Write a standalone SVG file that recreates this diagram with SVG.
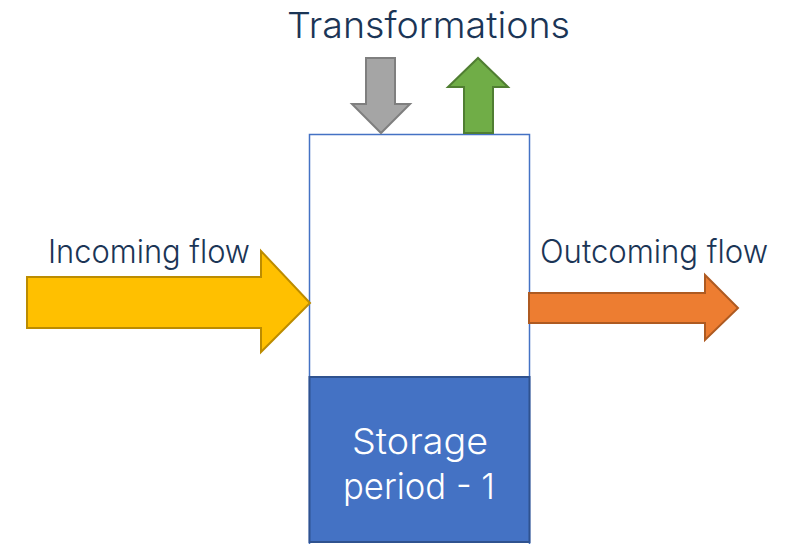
<svg xmlns="http://www.w3.org/2000/svg" width="794" height="544" viewBox="0 0 794 544">
<style>
.lbl{font-family:Inter,"Noto Sans","Liberation Sans",sans-serif;fill:#1B3556;font-weight:300}
.st{font-family:Inter,"Noto Sans","Liberation Sans",sans-serif;fill:#ffffff;font-size:36px;font-weight:300;text-anchor:middle}
.arr{stroke-width:2;stroke-linejoin:miter}
</style>
<rect width="794" height="544" fill="#ffffff"/>
<g id="container">
<rect x="309.5" y="134.5" width="220" height="420" fill="#ffffff" stroke="#4472C4" stroke-width="1.5"/>
</g>
<g id="storage">
<rect x="309.5" y="377" width="220" height="165" fill="#4472C4" stroke="#2F528F" stroke-width="2"/>
<text class="st" x="420" y="454" textLength="136" lengthAdjust="spacingAndGlyphs">Storage</text>
<text class="st" x="419" y="499" textLength="152" lengthAdjust="spacingAndGlyphs">period - 1</text>
</g>
<g id="title">
<text class="lbl" x="287" y="38" font-size="36" textLength="283" lengthAdjust="spacingAndGlyphs">Transformations</text>
</g>
<g id="labels">
<text class="lbl" x="48" y="263" font-size="32" textLength="202" lengthAdjust="spacingAndGlyphs">Incoming flow</text>
<text class="lbl" x="540" y="263" font-size="32" textLength="228" lengthAdjust="spacingAndGlyphs">Outcoming flow</text>
</g>
<g id="connectors">
<polygon id="in-arrow" class="arr" points="27,277 261,277 261,251 310,303 261,352 261,328 27,328" fill="#FFC000" stroke="#BC8C00"/>
<polygon id="out-arrow" class="arr" points="529,293 705,293 705,275 738,308 705,340 705,323 529,323" fill="#ED7D31" stroke="#AE5A21"/>
<polygon id="down-arrow" class="arr" points="366,58 395,58 395,104 410,104 381,133 352,104 366,104" fill="#A5A5A5" stroke="#7F7F7F"/>
<polygon id="up-arrow" class="arr" points="464,133 493,133 493,87 508,87 478,58 448,87 464,87" fill="#70AD47" stroke="#507E32"/>
</g>
</svg>
